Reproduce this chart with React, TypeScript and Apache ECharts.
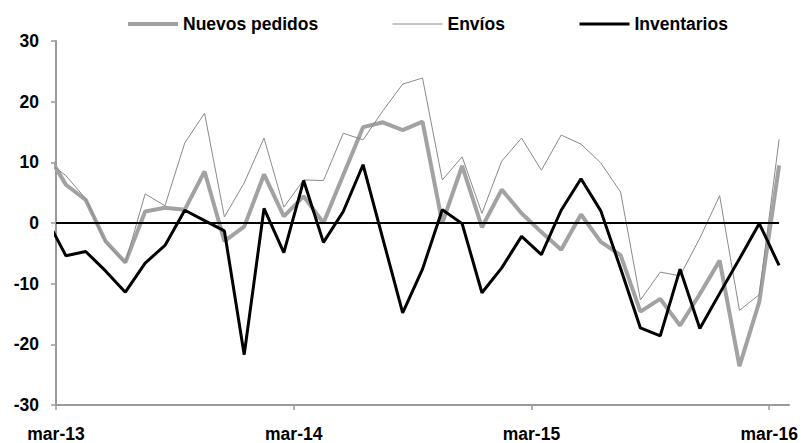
import React, { useEffect, useRef } from "react";
import * as echarts from "echarts";

// Monthly data: first value is feb-13 (partly outside the axis), then mar-13 ... mar-16
const seriesNames = ["Nuevos pedidos", "Envíos", "Inventarios"];
const tickLabels = ["mar-13", "mar-14", "mar-15", "mar-16"];
const tickValues = [0, 12, 24, 36];

const nuevosPedidos = [
  11.8, 6.3, 3.8, -3.0, -6.5, 1.9, 2.5, 2.2, 8.5, -3.0, -0.6, 8.0, 1.1, 4.4, 0.0,
  7.9, 15.8, 16.6, 15.3, 16.7, 0.0, 9.4, -0.7, 5.5, 1.6, -1.5, -4.4, 1.4, -3.1,
  -5.3, -14.6, -12.5, -16.9, -11.7, -6.2, -23.6, -13.0, 9.5,
];
const envios = [
  10.3, 7.8, 4.0, -3.2, -6.6, 4.8, 2.85, 13.2, 18.1, 1.0, 6.6, 14.0, 2.6, 7.1, 7.0,
  14.8, 13.7, 18.5, 22.9, 23.9, 7.1, 10.9, 1.6, 10.2, 14.0, 8.7, 14.5, 13.0, 9.9,
  5.1, -12.7, -8.1, -8.7, -2.5, 4.5, -14.4, -11.8, 13.8,
];
const inventarios = [
  0.8, -5.4, -4.7, -7.9, -11.4, -6.6, -3.7, 2.1, 0.4, -1.3, -21.7, 2.4, -4.9, 7.0,
  -3.2, 1.9, 9.6, -2.6, -14.8, -7.6, 2.2, -0.1, -11.5, -7.4, -2.2, -5.2, 2.1, 7.3,
  2.0, -7.5, -17.3, -18.6, -7.6, -17.4, -11.6, -5.9, -0.1, -7.0,
];

const seriesColors = ["#a2a2a2", "#8a8a8a", "#000000"];
const seriesWidths = [4, 1, 3];
const legendLefts = [121, 387, 573];

// month position: index 0 = feb-13 (mid-month), mar-13 starts at 0
const toPoints = (vals: number[]) => vals.map((v, i) => [i - 0.5, v]);

const FONT = '"Liberation Sans", Arial, sans-serif';

export default function App() {
  const ref = useRef<HTMLDivElement>(null);
  useEffect(() => {
    if (!ref.current) return;
    const chart = echarts.init(ref.current, null, { renderer: "svg" });
    const axisGray = "#9a9a9a";
    const allData = [nuevosPedidos, envios, inventarios];
    chart.setOption({
      animation: false,
      backgroundColor: "#ffffff",
      textStyle: { fontFamily: FONT },
      legend: seriesNames.map((name, i) => ({
        top: 10,
        left: legendLefts[i],
        itemWidth: 50,
        itemHeight: 14,
        itemStyle: { opacity: 0 },
        lineStyle: { width: seriesWidths[i], color: seriesColors[i] },
        textStyle: { fontFamily: FONT, fontWeight: "bold", fontSize: 17.5, color: "#000" },
        data: [name],
      })),
      grid: { left: 56, right: 20, top: 41, bottom: 38, containLabel: false },
      xAxis: {
        type: "value",
        min: 0,
        max: 37,
        interval: 12,
        axisLine: { onZero: false, lineStyle: { color: axisGray, width: 2 } },
        axisTick: { show: true, length: 5, customValues: tickValues, lineStyle: { color: axisGray, width: 1.5 } },
        axisLabel: {
          customValues: tickValues,
          margin: 20,
          fontFamily: FONT,
          fontWeight: "bold",
          fontSize: 17.5,
          color: "#000",
          formatter: (v: number) => {
            const i = tickValues.indexOf(Math.round(v));
            return i >= 0 ? tickLabels[i] : "";
          },
        },
        splitLine: { show: false },
      },
      yAxis: {
        type: "value",
        min: -30,
        max: 30,
        interval: 10,
        axisLine: { show: true, lineStyle: { color: axisGray, width: 2 } },
        axisTick: { show: true, length: 5, lineStyle: { color: axisGray, width: 1.5 } },
        axisLabel: { margin: 17, fontFamily: FONT, fontWeight: "bold", fontSize: 17.5, color: "#000" },
        splitLine: { show: false },
      },
      series: seriesNames.map((name, i) => ({
        name,
        type: "line",
        data: toPoints(allData[i]),
        symbol: "none",
        clip: true,
        lineStyle: { color: seriesColors[i], width: seriesWidths[i] },
        itemStyle: { color: seriesColors[i] },
        ...(i === 2
          ? {
              markLine: {
                silent: true,
                symbol: "none",
                label: { show: false },
                lineStyle: { color: "#000", width: 2, type: "solid" },
                data: [[{ coord: [0, 0] }, { coord: [36.5, 0] }]],
              },
            }
          : {}),
      })),
    });
    return () => chart.dispose();
  }, []);
  return (
    <div
      ref={ref}
      style={{ position: "fixed", left: 0, top: 0, width: 809, height: 443, background: "#fff" }}
    />
  );
}
